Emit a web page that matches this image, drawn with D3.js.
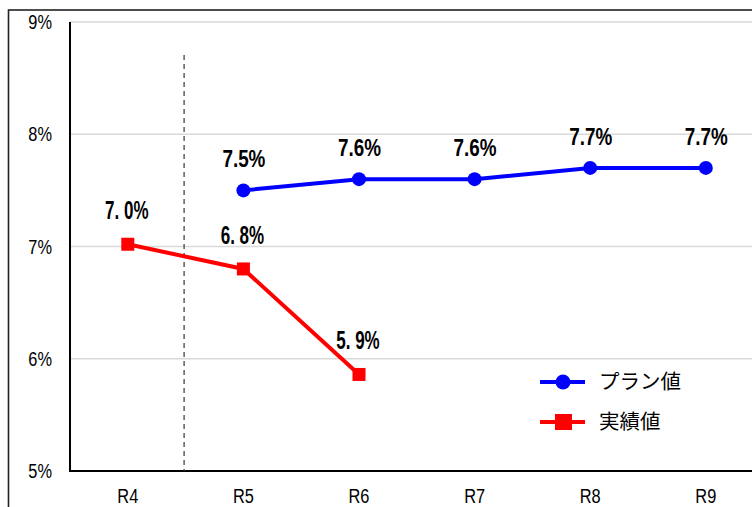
<!DOCTYPE html>
<html>
<head>
<meta charset="utf-8">
<script src="https://cdn.jsdelivr.net/npm/d3@7"></script>
<style>
  html, body { margin: 0; padding: 0; background: #fff; }
  svg { display: block; }
</style>
</head>
<body>
<svg id="chart" width="752" height="507"></svg>
<script>
// Fiscal-year categories and series (percent)
const categories = ["R4", "R5", "R6", "R7", "R8", "R9"];
const planYears = ["R5", "R6", "R7", "R8", "R9"];
const planValues = [7.5, 7.6, 7.6, 7.7, 7.7];
const actualYears = ["R4", "R5", "R6"];
const actualValues = [7.02, 6.8, 5.86];
const yTicks = [5, 6, 7, 8, 9];
const seriesNames = ["プラン値", "実績値"];

const svg = d3.select("#chart");
const plotLeft = 70, plotTop = 22, plotBottom = 471, plotRight = 763.6;
const axisFont = "'Liberation Sans', Arial, sans-serif";
const narrow = 0.78; // horizontal squeeze for the condensed axis lettering

const x = d3.scaleBand().domain(categories).range([plotLeft, plotRight]).paddingInner(0).paddingOuter(0);
const y = d3.scaleLinear().domain([5, 9]).range([plotBottom, plotTop]);
const cx = d => x(d) + x.bandwidth() / 2;

// outer frame
svg.append("rect")
  .attr("x", 8.5).attr("y", 10).attr("width", 800).attr("height", 520)
  .attr("fill", "none").attr("stroke", "#222").attr("stroke-width", 1.6);

// horizontal gridlines
svg.append("g")
  .selectAll("line")
  .data(yTicks.filter(t => t > 5))
  .join("line")
  .attr("x1", plotLeft).attr("x2", plotRight)
  .attr("y1", d => y(d)).attr("y2", d => y(d))
  .attr("stroke", "#d9d9d9").attr("stroke-width", 1.6);

// y axis
const yPad = 18;
const yAxis = d3.axisLeft(y).tickValues(yTicks).tickFormat(d => d + "%").tickSize(0).tickPadding(yPad);
const gy = svg.append("g").attr("transform", `translate(${plotLeft},0)`).call(yAxis);
gy.select(".domain").remove();
gy.selectAll("text")
  .attr("font-family", axisFont)
  .attr("font-size", 21).attr("fill", "#000")
  .attr("x", -yPad / narrow)
  .attr("transform", `scale(${narrow},1)`);

// x axis
const xAxis = d3.axisBottom(x).tickSize(0).tickPadding(17);
const gx = svg.append("g").attr("transform", `translate(0,${plotBottom})`).call(xAxis);
gx.select(".domain").remove();
gx.selectAll("text")
  .attr("font-family", axisFont)
  .attr("font-size", 21).attr("fill", "#000")
  .attr("transform", `scale(${narrow},1)`);

// axis lines
svg.append("line").attr("x1", plotLeft).attr("x2", plotLeft).attr("y1", plotTop).attr("y2", plotBottom + 1)
  .attr("stroke", "#000").attr("stroke-width", 2);
svg.append("line").attr("x1", plotLeft - 1).attr("x2", plotRight).attr("y1", plotBottom).attr("y2", plotBottom)
  .attr("stroke", "#000").attr("stroke-width", 2);

// dashed divider between R4 and R5
svg.append("line")
  .attr("x1", x("R5") - 1.5).attr("x2", x("R5") - 1.5)
  .attr("y1", 55).attr("y2", plotBottom)
  .attr("stroke", "#444").attr("stroke-width", 1.3)
  .attr("stroke-dasharray", "5,4");

const line = d3.line().x(d => cx(d[0])).y(d => y(d[1]));

// plan series (blue, circles)
const planData = planYears.map((c, i) => [c, planValues[i]]);
svg.append("path").datum(planData).attr("d", line)
  .attr("fill", "none").attr("stroke", "#0000ff").attr("stroke-width", 4);
svg.append("g").selectAll("circle").data(planData).join("circle")
  .attr("cx", d => cx(d[0])).attr("cy", d => y(d[1])).attr("r", 7)
  .attr("fill", "#0000ff");
svg.append("g").selectAll("text").data(planData).join("text")
  .attr("transform", d => `translate(${cx(d[0]) + 0.5},${y(d[1]) - 23}) scale(0.82,1)`)
  .attr("text-anchor", "middle")
  .attr("font-family", axisFont)
  .attr("font-weight", "bold").attr("font-size", 23).attr("fill", "#000")
  .text(d => d[1].toFixed(1) + "%");

// actual series (red, squares)
const actualData = actualYears.map((c, i) => [c, actualValues[i]]);
svg.append("path").datum(actualData).attr("d", line)
  .attr("fill", "none").attr("stroke", "#ff0000").attr("stroke-width", 4);
svg.append("g").selectAll("rect").data(actualData).join("rect")
  .attr("x", d => cx(d[0]) - 6.5).attr("y", d => y(d[1]) - 6.5)
  .attr("width", 13).attr("height", 13)
  .attr("fill", "#ff0000");
svg.append("g").selectAll("text").data(actualData).join("text")
  .attr("transform", d => `translate(${cx(d[0]) - 1},${y(d[1]) - 25}) scale(0.68,1)`)
  .attr("text-anchor", "middle")
  .attr("font-family", axisFont)
  .attr("font-weight", "bold").attr("font-size", 25).attr("fill", "#000")
  .text(d => d[1].toFixed(1).replace(".", ". ") + "%");

// legend
const legend = svg.append("g");
const legendRows = [
  { name: seriesNames[0], color: "#0000ff", shape: "circle", y: 382 },
  { name: seriesNames[1], color: "#ff0000", shape: "square", y: 422 }
];
legendRows.forEach(r => {
  legend.append("line").attr("x1", 540).attr("x2", 585).attr("y1", r.y).attr("y2", r.y)
    .attr("stroke", r.color).attr("stroke-width", 4);
  if (r.shape === "circle") {
    legend.append("circle").attr("cx", 563).attr("cy", r.y).attr("r", 7.5).attr("fill", r.color);
  } else {
    legend.append("rect").attr("x", 555).attr("y", r.y - 8).attr("width", 17).attr("height", 16).attr("fill", r.color);
  }
  legend.append("text").attr("x", 599).attr("y", r.y).attr("dy", "0.36em")
    .attr("font-family", "'Noto Sans CJK JP', sans-serif")
    .attr("font-size", 20.5).attr("fill", "#000")
    .text(r.name);
});
</script>
</body>
</html>
